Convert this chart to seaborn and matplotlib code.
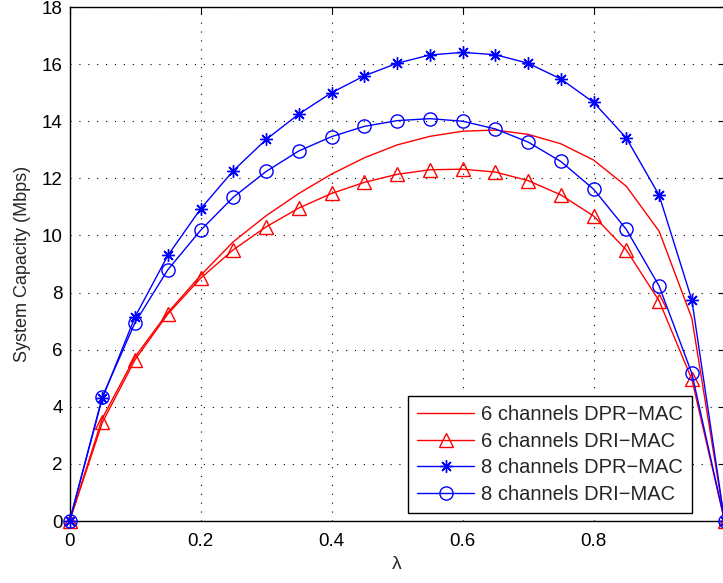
import matplotlib
matplotlib.use("Agg")
import matplotlib.pyplot as plt
import seaborn as sns
import pandas as pd
import numpy as np

lam = [0.0, 0.05, 0.1, 0.15, 0.2, 0.25, 0.3, 0.35, 0.4, 0.45, 0.5,
       0.55, 0.6, 0.65, 0.7, 0.75, 0.8, 0.85, 0.9, 0.95, 1.0]

dpr6 = [0, 3.6, 5.75, 7.3, 8.6, 9.78, 10.69, 11.47, 12.15, 12.72, 13.17,
        13.47, 13.65, 13.69, 13.54, 13.21, 12.64, 11.72, 10.15, 7.1, 0]
dri6 = [0, 3.45, 5.65, 7.25, 8.5, 9.5, 10.3, 10.96, 11.47, 11.86, 12.14,
        12.3, 12.32, 12.22, 11.92, 11.42, 10.68, 9.49, 7.71, 4.96, 0]
dpr8 = [0, 4.3, 7.15, 9.3, 10.93, 12.27, 13.36, 14.25, 15.0, 15.59, 16.03,
        16.32, 16.41, 16.33, 16.03, 15.48, 14.66, 13.41, 11.41, 7.74, 0]
dri8 = [0, 4.35, 6.95, 8.8, 10.18, 11.34, 12.24, 12.96, 13.46, 13.82, 14.02,
        14.09, 14.0, 13.73, 13.27, 12.59, 11.62, 10.21, 8.23, 5.17, 0]

labels = ["6 channels DPR\u2212MAC", "6 channels DRI\u2212MAC",
          "8 channels DPR\u2212MAC", "8 channels DRI\u2212MAC"]
xticks = [0, 0.2, 0.4, 0.6, 0.8]
xticklabels = ["0", "0.2", "0.4", "0.6", "0.8"]
yticks = [0, 2, 4, 6, 8, 10, 12, 14, 16, 18]

sns.set_style("white")
plt.rcParams['font.family'] = ['Liberation Sans', 'DejaVu Sans']

fig = plt.figure(figsize=(7.23, 5.83), dpi=100)
ax = fig.add_axes([69.6 / 723, 1 - 521 / 583, 655 / 723, 514 / 583])

series = [dpr6, dri6, dpr8, dri8]
colors = ["#ff0000", "#ff0000", "#0000ff", "#0000ff"]
markers = [None, "^", (8, 2, 0), "o"]
msizes = [0, 10.5, 9, 9.5]

for vals, lab, c, m, ms in zip(series, labels, colors, markers, msizes):
    df = pd.DataFrame({"lam": lam, "cap": vals})
    kw = {}
    if m is not None:
        kw = dict(marker=m, markersize=ms, markerfacecolor="none",
                  markeredgecolor=c, markeredgewidth=1.0)
    sns.lineplot(data=df, x="lam", y="cap", ax=ax, color=c, linewidth=1.0,
                 label=lab, clip_on=False, zorder=3, **kw)

ax.set_xlim(0, 1)
ax.set_ylim(0, 18)
ax.set_xticks(xticks)
ax.set_xticklabels(xticklabels)
ax.set_yticks(yticks)
ax.tick_params(direction="in", length=5, width=0.8, top=True, right=True,
               labelsize=13.5, colors="black")
ax.tick_params(axis="x", pad=9)
ax.tick_params(axis="y", pad=5)
for sp in ax.spines.values():
    sp.set_color("black")
    sp.set_linewidth(1.0)
ax.grid(True, color="black", linestyle=(0, (1, 7)), linewidth=0.8)
ax.set_axisbelow(True)

ax.set_xlabel("\u03bb", fontsize=14, labelpad=4)
ax.set_ylabel("System Capacity (Mbps)", fontsize=13, labelpad=8)

leg = ax.legend(loc="lower right", bbox_to_anchor=(0.950, 0.0156),
                fontsize=14.5, frameon=True, fancybox=False,
                borderaxespad=0, handlelength=2.8, handletextpad=0.35,
                labelspacing=0.38, borderpad=0.45)
leg.get_frame().set_edgecolor("black")
leg.get_frame().set_linewidth(1.0)
leg.get_frame().set_alpha(1)

fig.savefig("out.png", dpi=100)
